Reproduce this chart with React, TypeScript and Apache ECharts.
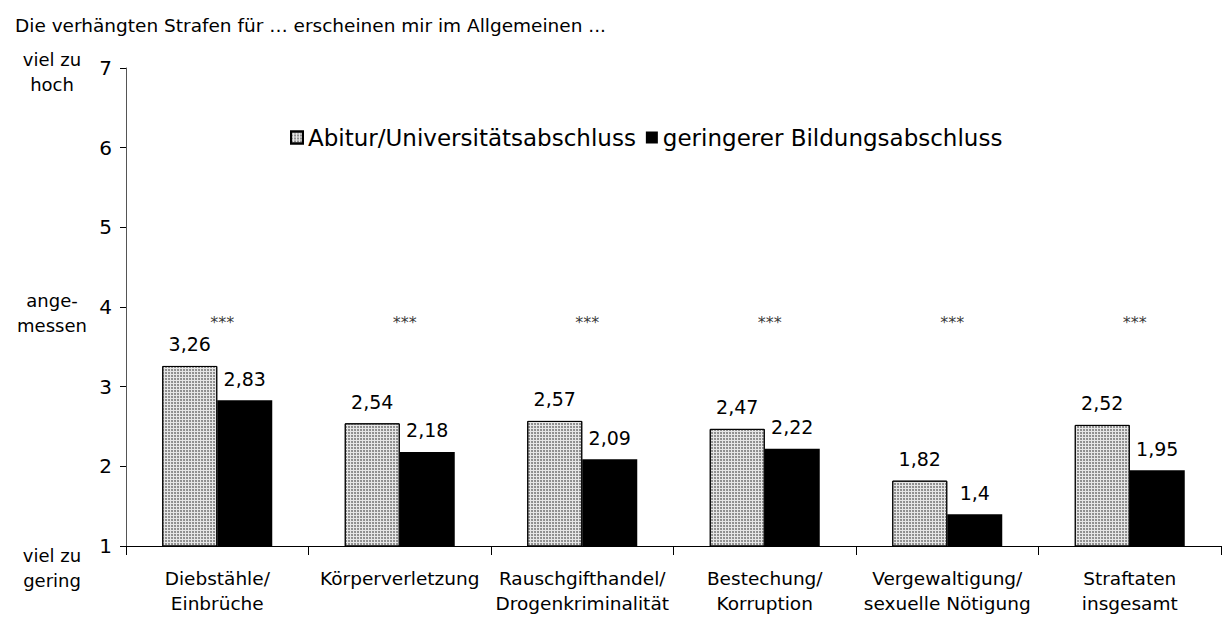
import React, { useEffect, useRef } from "react";
import * as echarts from "echarts";

const title = "Die verhängten Strafen für … erscheinen mir im Allgemeinen ...";
const categories = [
  "Diebstähle/\nEinbrüche",
  "Körperverletzung",
  "Rauschgifthandel/\nDrogenkriminalität",
  "Bestechung/\nKorruption",
  "Vergewaltigung/\nsexuelle Nötigung",
  "Straftaten\ninsgesamt",
];
const seriesNames = ["Abitur/Universitätsabschluss", "geringerer Bildungsabschluss"];
const abiturValues = [3.26, 2.54, 2.57, 2.47, 1.82, 2.52];
const geringerValues = [2.83, 2.18, 2.09, 2.22, 1.4, 1.95];
const significance = ["***", "***", "***", "***", "***", "***"];
const significanceLevel = 3.84;
const scaleLabels = ["viel zu\nhoch", "ange-\nmessen", "viel zu\ngering"];

const FONT = "DejaVu Sans";
const fmt = (v: number) => String(v).replace(".", ",");

export default function App() {
  const ref = useRef<HTMLDivElement>(null);
  useEffect(() => {
    if (!ref.current) return;
    const chart = echarts.init(ref.current, undefined, { renderer: "svg" });
    const sideStyle = (text: string) => ({
      text,
      font: `18px "${FONT}"`,
      fill: "#000",
      align: "center",
      verticalAlign: "middle",
      lineHeight: 25,
    });
    const option: any = {
      animation: false,
      backgroundColor: "#ffffff",
      textStyle: { fontFamily: FONT, color: "#000" },
      title: {
        text: title,
        left: 10,
        top: 11,
        textStyle: { fontFamily: FONT, fontSize: 18.5, fontWeight: "normal", color: "#000" },
      },
      legend: {
        left: 285,
        top: 121,
        itemWidth: 12,
        itemHeight: 12,
        itemGap: 10,
        icon: "rect",
        textStyle: { fontFamily: FONT, fontSize: 23, color: "#000" },
        data: seriesNames,
      },
      grid: { left: 126, right: 2, top: 68, bottom: 74, containLabel: false },
      xAxis: {
        type: "category",
        data: categories,
        axisLine: { lineStyle: { color: "#000", width: 1 } },
        axisTick: { show: true, length: 9, lineStyle: { color: "#000" } },
        axisLabel: {
          fontFamily: FONT,
          fontSize: 18.5,
          color: "#000",
          lineHeight: 25,
          margin: 20,
          interval: 0,
        },
      },
      yAxis: {
        type: "value",
        min: 1,
        max: 7,
        interval: 1,
        splitLine: { show: false },
        axisLine: { show: true, lineStyle: { color: "#555" } },
        axisTick: { show: true, length: 6, lineStyle: { color: "#000" } },
        axisLabel: { fontFamily: FONT, fontSize: 20, color: "#000", margin: 14 },
      },
      series: [
        {
          name: seriesNames[0],
          type: "bar",
          data: abiturValues,
          barWidth: 55,
          barGap: "0%",
          itemStyle: {
            color: "#e6e6e6",
            borderColor: "#000",
            borderWidth: 1,
            decal: {
              symbol: "circle",
              symbolSize: 0.8,
              color: "#606060",
              dashArrayX: [2, 1],
              dashArrayY: [2, 1],
              rotation: 0,
            },
          },
          label: {
            show: true,
            position: "top",
            distance: 12,
            fontFamily: FONT,
            fontSize: 19,
            color: "#000",
            formatter: (p: any) => fmt(p.value),
          },
        },
        {
          name: seriesNames[1],
          type: "bar",
          data: geringerValues,
          barWidth: 55,
          barGap: "0%",
          itemStyle: { color: "#000" },
          label: {
            show: true,
            position: "top",
            distance: 12,
            fontFamily: FONT,
            fontSize: 19,
            color: "#000",
            formatter: (p: any) => fmt(p.value),
          },
        },
        {
          name: "sig",
          type: "scatter",
          data: significance.map(() => significanceLevel),
          symbolSize: 1,
          silent: true,
          itemStyle: { color: "rgba(0,0,0,0)" },
          label: {
            show: true,
            position: "inside",
            offset: [5, 3],
            fontFamily: FONT,
            fontSize: 16,
            color: "#000",
            formatter: (p: any) => significance[p.dataIndex],
          },
        },
      ],
      graphic: [
        { type: "text", x: 52, y: 72, style: sideStyle(scaleLabels[0]) },
        { type: "text", x: 52, y: 313, style: sideStyle(scaleLabels[1]) },
        { type: "text", x: 52, y: 568, style: sideStyle(scaleLabels[2]) },
      ],
    };
    chart.setOption(option);
    return () => chart.dispose();
  }, []);
  return <div ref={ref} style={{ width: 1223, height: 620, position: "absolute", left: 0, top: 0 }} />;
}
